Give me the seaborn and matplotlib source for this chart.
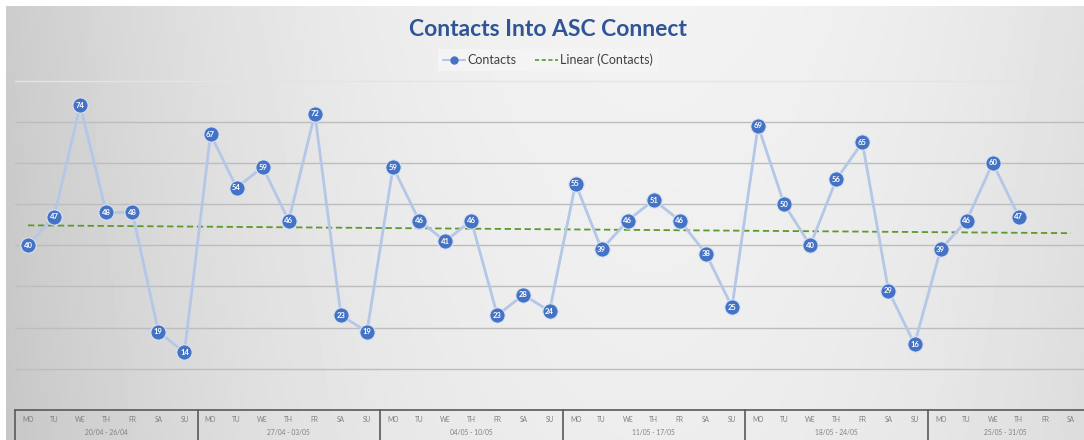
"""
Contacts Into ASC Connect - daily contacts line chart with linear trend
"""
import numpy as np
import matplotlib
matplotlib.use("Agg")
import matplotlib.pyplot as plt
import matplotlib.transforms as mtransforms
from matplotlib.lines import Line2D
import seaborn as sns

# data
days = ['MO', 'TU', 'WE', 'TH', 'FR', 'SA', 'SU']
weeks = ['20/04 - 26/04', '27/04 - 03/05', '04/05 - 10/05',
         '11/05 - 17/05', '18/05 - 24/05', '25/05 - 31/05']
week_lengths = [7, 7, 7, 7, 7, 6]
contacts = [40, 47, 74, 48, 48, 19, 14,
            67, 54, 59, 46, 72, 23, 19,
            59, 46, 41, 46, 23, 28, 24,
            55, 39, 46, 51, 46, 38, 25,
            69, 50, 40, 56, 65, 29, 16,
            39, 46, 60, 47, np.nan, np.nan]

day_labels = []
for n in week_lengths:
    day_labels += days[:n]

x = np.arange(len(contacts))
y = np.array(contacts, dtype=float)

sns.set_style("white")
plt.rcParams['font.family'] = ['Lato', 'DejaVu Sans']

W, H = 1084, 440
fig = plt.figure(figsize=(W / 100, H / 100), dpi=100)
fig.patch.set_facecolor('white')

# grey gradient chart background
bg = fig.add_axes([0, 0, 1, 1])
bg.set_axis_off()
gx = np.linspace(0, 1, 300)
gy = np.linspace(0, 1, 100)
GX, GY = np.meshgrid(gx, gy)
shade = 0.80 + 0.15 * (1 - np.clip(np.abs(GX - 0.6) / 0.6, 0, 1.2) ** 2)
shade = shade - 0.02 * GY
bg.imshow(shade, cmap='gray', vmin=0, vmax=1, aspect='auto',
          extent=[6 / W, 1, 0, 1 - 7 / H], origin='upper')
bg.set_xlim(0, 1)
bg.set_ylim(0, 1)

ax = fig.add_axes([15 / W, 30 / H, 1069 / W, 331 / H])
ax.set_facecolor('none')

# gridlines
for v in range(10, 80, 10):
    ax.axhline(v, color='#BDBDBD', lw=1.0, zorder=0)
ax.axhline(80, color='#E4E4E4', lw=1.0, zorder=0)

# linear trend over the available points
ok = ~np.isnan(y)
slope, intercept = np.polyfit(x[ok], y[ok], 1)
trend = slope * x + intercept
sns.lineplot(x=x, y=trend, ax=ax, color='#5B9A2C', lw=1.3,
             linestyle=(0, (3.5, 2)), zorder=2)

# contacts line with markers
sns.lineplot(x=x[ok], y=y[ok], ax=ax, color='#B4C7E7', lw=2,
             marker='o', markersize=11, markerfacecolor='#4472C4',
             markeredgecolor='#DAE3F3', markeredgewidth=0.8, zorder=3)

for xi, yi in zip(x[ok], y[ok]):
    ax.text(xi, yi, f"{int(yi)}", ha='center', va='center', color='white',
            fontsize=5.5, fontweight='bold', zorder=4)

ax.set_xlim(-0.5, len(contacts) - 0.5)
ax.set_ylim(0, 80.4)
ax.set_xticks([])
ax.set_yticks([])
ax.set_xlabel('')
ax.set_ylabel('')
for s in ['top', 'right', 'left']:
    ax.spines[s].set_visible(False)
ax.spines['bottom'].set_color('#595959')
ax.spines['bottom'].set_linewidth(1.2)

# multi-level category axis
trans = mtransforms.blended_transform_factory(ax.transData, ax.transAxes)
for xi, lab in zip(x, day_labels):
    ax.text(xi, -0.03, lab, transform=trans, ha='center', va='center',
            fontsize=4.8, color='#7F7F7F', clip_on=False)
start = 0
for wk, n in zip(weeks, week_lengths):
    ax.text(start + (n - 1) / 2, -0.068, wk, transform=trans, ha='center',
            va='center', fontsize=4.8, color='#7F7F7F', clip_on=False)
    ax.plot([start - 0.5, start - 0.5], [0, -0.1], transform=trans,
            color='#595959', lw=1.2, clip_on=False)
    start += n

# title and legend
fig.text(548 / W, 1 - 30 / H, 'Contacts Into ASC Connect', ha='center',
         va='center', fontsize=16.5, fontweight='bold', color='#2F5597')
handles = [Line2D([], [], color='#B4C7E7', lw=1.5, marker='o', markersize=5,
                  markerfacecolor='#4472C4', markeredgecolor='#4472C4'),
           Line2D([], [], color='#5B9A2C', lw=1.2, linestyle=(0, (2.5, 1.5)))]
fig.legend(handles, ['Contacts', 'Linear (Contacts)'], loc='center',
           bbox_to_anchor=(548 / W, 1 - 60 / H), ncol=2, fontsize=9,
           frameon=True, fancybox=False, facecolor='#F4F4F4',
           edgecolor='none', framealpha=1, handlelength=1.8,
           handletextpad=0.2, columnspacing=1.5, borderpad=0.35,
           labelcolor='#404040')

fig.savefig('out.png', dpi=100, facecolor=fig.get_facecolor())
